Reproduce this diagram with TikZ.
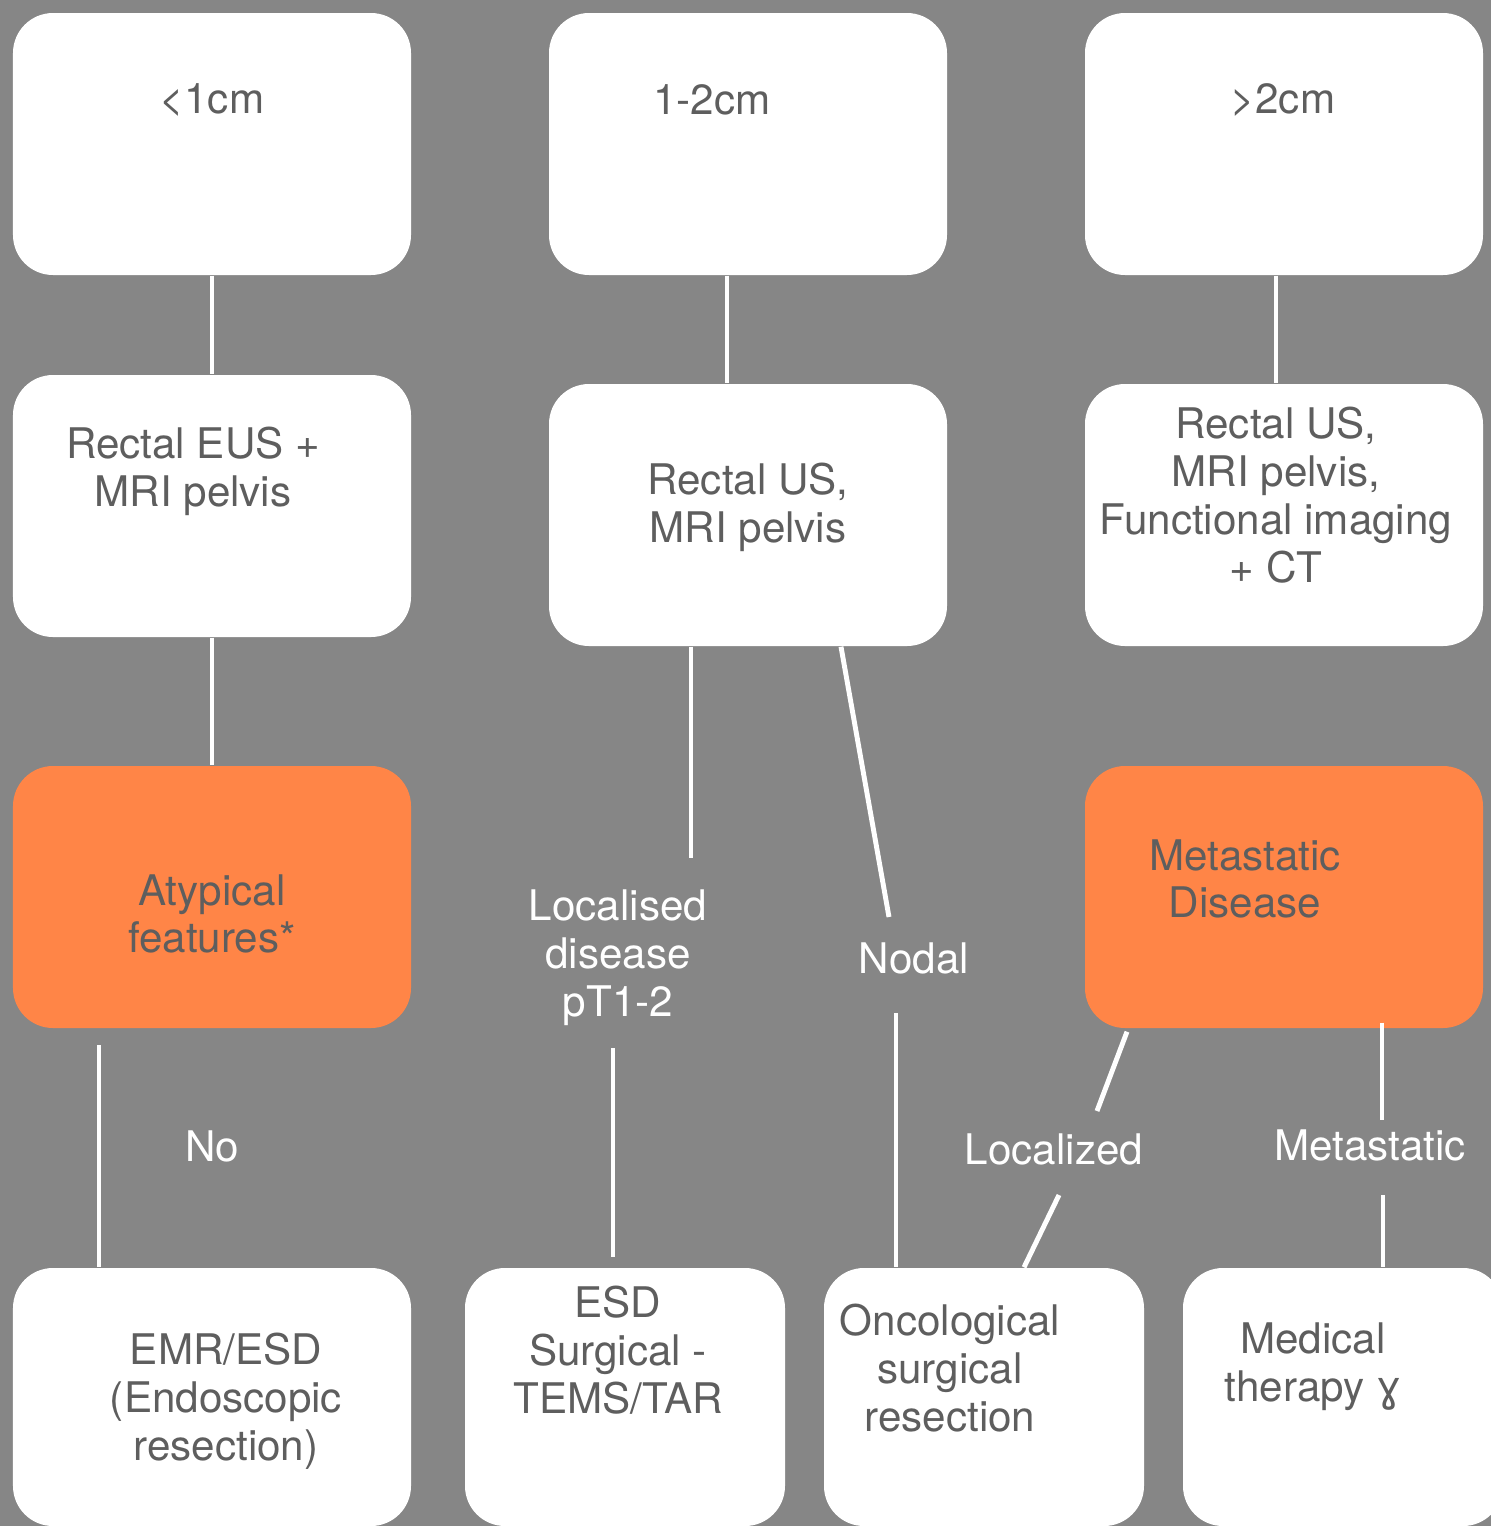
\documentclass[tikz,border=0pt]{standalone}
\usepackage{fontspec}
\setmainfont{TeX Gyre Heros}
\newfontfamily\dejavu{DejaVu Sans}
\definecolor{bggray}{HTML}{868686}
\definecolor{boxorange}{HTML}{FF8547}
\definecolor{txtgray}{HTML}{5E5E5E}
\tikzset{
  box/.style={fill=white, rounded corners=0.4cm, minimum width=3.98cm, minimum height=2.62cm, inner sep=0pt},
  obox/.style={box, fill=boxorange},
  smallbox/.style={box, minimum width=3.2cm, minimum height=2.58cm},
  boxtxt/.style={text=txtgray, align=center, inner sep=0pt, font=\fontsize{12}{13.6}\selectfont},
  lbl/.style={text=white, align=center, inner sep=0pt, font=\fontsize{12}{13.6}\selectfont},
  link/.style={draw=white, line width=1.4pt}
}
\begin{document}
\begin{tikzpicture}
    \fill[bggray] (0,0) rectangle (14.91,-15.26);
    \useasboundingbox (0,0) rectangle (14.91,-15.26);
% size boxes
\node[box] (a1) at (2.12,-1.44) {};
\node[box] (a2) at (7.48,-1.44) {};
\node[box] (a3) at (12.84,-1.44) {};
\node[boxtxt] at (2.12,-1.00) {<1cm};
\node[boxtxt] at (7.12,-1.00) {1-2cm};
\node[boxtxt] at (12.83,-1.00) {>2cm};
% imaging
\node[box] (b1) at (2.12,-5.06) {};
\node[box] (b2) at (7.48,-5.15) {};
\node[box] (b3) at (12.84,-5.15) {};
\node[boxtxt] at (1.93,-4.71) {Rectal EUS +\\MRI pelvis};
\node[boxtxt] at (7.48,-5.07) {Rectal US,\\MRI pelvis};
\node[boxtxt] at (12.76,-4.95) {Rectal US,\\MRI pelvis,\\Functional imaging\\+ CT};
% findings
\node[obox] (c1) at (2.12,-8.97) {};
\node[obox] (c3) at (12.84,-8.97) {};
\node[boxtxt] at (2.12,-9.14) {Atypical\\features*};
\node[boxtxt] at (12.45,-8.79) {Metastatic\\Disease};
\node[lbl] (loc) at (6.18,-9.58) {Localised\\disease\\pT1-2};
\node[lbl] (nod) at (9.14,-9.58) {Nodal};
\node[lbl] (no) at (2.12,-11.46) {No};
\node[lbl] (lzd) at (10.54,-11.49) {Localized};
\node[lbl] (met) at (13.70,-11.45) {Metastatic};
% treatment
\node[box, minimum height=2.58cm] (d1) at (2.12,-13.97) {};
\node[smallbox] (d2) at (6.25,-13.97) {};
\node[smallbox] (d3) at (9.84,-13.97) {};
\node[smallbox] (d4) at (13.43,-13.97) {};
\node[boxtxt] at (2.26,-14.01) {EMR/ESD\\(Endoscopic\\resection)};
\node[boxtxt] at (6.18,-13.50) {ESD\\Surgical -\\TEMS/TAR};
\node[boxtxt] at (9.50,-13.68) {Oncological\\surgical\\resection};
\node[boxtxt] at (13.13,-13.67) {Medical\\therapy {\dejavu ɣ}};
% connector ends
\coordinate (loc-in) at (6.91,-8.58);
\coordinate (loc-out) at (6.13,-10.48);
\coordinate (nod-in) at (8.89,-9.17);
\coordinate (nod-out) at (8.96,-10.13);
\coordinate (no-in) at (0.99,-10.45);
\coordinate (lzd-in) at (10.97,-11.11);
\coordinate (lzd-out) at (10.59,-11.95);
\coordinate (met-in) at (13.82,-11.20);
\coordinate (met-out) at (13.83,-11.95);
\draw[link] (a1.south)--(b1.north);
\draw[link] (b1.south)--(c1.north);
\draw[link] ([xshift=-2.1mm]a2.south)--([xshift=-2.1mm]b2.north);
\draw[link] ([xshift=-0.8mm]a3.south)--([xshift=-0.8mm]b3.north);
\draw[link] (b2.south -| loc-in)--(loc-in);
\draw[link] ([xshift=9.3mm]b2.south)--(nod-in);
\draw[link] (no-in)--(no-in |- d1.north);
\draw[link] (loc-out)--([yshift=1mm]loc-out |- d2.north);
\draw[link] (nod-out)--(nod-out |- d3.north);
\draw[link] ([xshift=-15.7mm,yshift=-0.3mm]c3.south)--(lzd-in);
\draw[link] (lzd-out)--([xshift=4mm]d3.north);
\draw[link] ([yshift=0.6mm]c3.south -| met-in)--(met-in);
\draw[link] (met-out)--(met-out |- d4.north);

\end{tikzpicture}
\end{document}
